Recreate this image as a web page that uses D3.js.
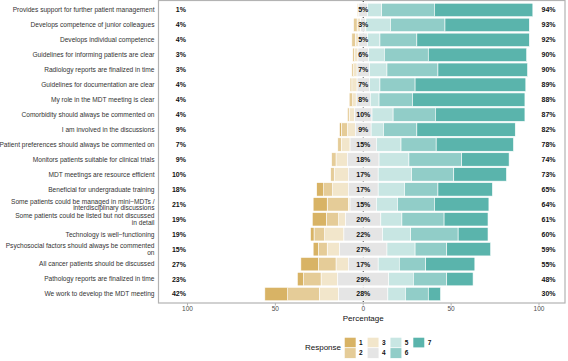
<!DOCTYPE html>
<html>
<head>
<meta charset="utf-8">
<script src="https://cdn.jsdelivr.net/npm/d3@7"></script>
<style>
  html, body { margin: 0; padding: 0; background: #fff; }
  svg { display: block; font-family: "Liberation Sans", Arial, Helvetica, sans-serif; }
</style>
</head>
<body>
<svg id="chart" width="568" height="361"></svg>
<script>
// ---- DATA ----
const items = [
  "Provides support for further patient management",
  "Develops competence of junior colleagues",
  "Develops individual competence",
  "Guidelines for informing patients are clear",
  "Radiology reports are finalized in time",
  "Guidelines for documentation are clear",
  "My role in the MDT meeting is clear",
  "Comorbidity should always be commented on",
  "I am involved in the discussions",
  "Patient preferences should always be commented on",
  "Monitors patients suitable for clinical trials",
  "MDT meetings are resource efficient",
  "Beneficial for undergraduate training",
  "Some patients could be managed in mini\u2212MDTs /\ninterdisciplinary discussions",
  "Some patients could be listed but not discussed\nin detail",
  "Technology is well\u2212functioning",
  "Psychosocial factors should always be commented\non",
  "All cancer patients should be discussed",
  "Pathology reports are finalized in time",
  "We work to develop the MDT meeting"
];
const levels = ["1", "2", "3", "4", "5", "6", "7"];
const resp1 = [0, 0, 0, 0, 0, 0, 0, 0, 1, 0, 0, 0, 4, 8, 8, 2, 3, 10, 3.5, 13];
const resp2 = [0, 2, 2, 1, 1, 1, 2, 1, 3.5, 2, 2.5, 2, 5, 12, 7, 6, 5, 10, 10, 18];
const resp3 = [1, 2, 2, 2, 2, 3, 2, 3, 4.5, 5, 6.5, 8, 9, 1, 4, 11, 7, 7, 9.5, 11];
const resp4 = [5, 3, 5, 6, 7, 7, 8, 10, 9, 15, 18, 17, 17, 15, 20, 22, 27, 17, 29, 28];
const resp5 = [8, 14, 7, 9, 10, 6, 5, 12, 7, 14, 17, 19, 15, 12, 12, 16, 16, 12, 14, 10];
const resp6 = [30, 31, 21, 25, 29, 20, 19, 24, 19, 20, 30, 24, 19, 21, 24, 27, 18, 15, 19, 13];
const resp7 = [56, 48, 64, 56, 51, 63, 64, 51, 56, 44, 27, 30, 31, 31, 25, 17, 25, 28, 15, 7];
const xTicks = [-100, -50, 0, 50, 100];
const colors = ["#D8B365", "#E5CC98", "#F2E6CB", "#E5E5E5", "#C8E6E3", "#91CDC8", "#5AB4AC"];

// ---- LAYOUT ----
const svg = d3.select("#chart");
const panel = { left: 158.5, right: 565, top: 1, bottom: 303 };

const x = d3.scaleLinear().domain([-116.5, 114.8]).range([panel.left, panel.right]);
const y = d3.scalePoint().domain(d3.range(items.length)).range([panel.top, panel.bottom]).padding(0.6);
const barH = y.step() * 0.9;
const color = d3.scaleOrdinal().domain(levels).range(colors);

const series = [resp1, resp2, resp3, resp4, resp5, resp6, resp7];

// segments
const segs = [];
items.forEach((it, i) => {
  const v = series.map(s => s[i]);
  const n = v[3];
  let pos = -n / 2;
  for (let k = 2; k >= 0; k--) {
    segs.push({ row: i, lev: levels[k], x0: pos - v[k], x1: pos });
    pos -= v[k];
  }
  segs.push({ row: i, lev: levels[3], x0: -n / 2, x1: n / 2 });
  pos = n / 2;
  for (let k = 4; k < 7; k++) {
    segs.push({ row: i, lev: levels[k], x0: pos, x1: pos + v[k] });
    pos += v[k];
  }
});

// panel border
svg.append("rect")
  .attr("x", panel.left).attr("y", panel.top - 0.5)
  .attr("width", panel.right - panel.left).attr("height", panel.bottom - panel.top + 0.5)
  .attr("fill", "#fff").attr("stroke", "#b3b3b3").attr("stroke-width", 1.2);

// zero line (behind bars)
svg.append("line")
  .attr("x1", x(0)).attr("x2", x(0))
  .attr("y1", panel.top).attr("y2", panel.bottom)
  .attr("stroke", "#222").attr("stroke-width", 1)
  .attr("stroke-dasharray", "1,1");

// bars
svg.append("g").selectAll("rect").data(segs.filter(d => d.x1 > d.x0)).join("rect")
  .attr("x", d => x(d.x0))
  .attr("width", d => x(d.x1) - x(d.x0))
  .attr("y", d => y(d.row) - barH / 2)
  .attr("height", barH)
  .attr("fill", d => color(d.lev))
  .attr("stroke", "#fff").attr("stroke-width", 0.6);

// percentage labels
const pctG = svg.append("g").attr("font-size", 7).attr("font-weight", "bold").attr("fill", "#111");
items.forEach((it, i) => {
  const low = Math.round(resp1[i] + resp2[i] + resp3[i]);
  const neu = Math.round(resp4[i]);
  const high = Math.round(resp5[i] + resp6[i] + resp7[i]);
  pctG.append("text").attr("x", x(-100) - 1.5).attr("y", y(i)).attr("dy", "0.35em")
    .attr("text-anchor", "end").text(low + "%");
  pctG.append("text").attr("x", x(0)).attr("y", y(i)).attr("dy", "0.35em")
    .attr("text-anchor", "middle").text(neu + "%");
  pctG.append("text").attr("x", x(100) + 2.5).attr("y", y(i)).attr("dy", "0.35em")
    .attr("text-anchor", "start").text(high + "%");
});

// y-axis labels
const yl = svg.append("g").attr("font-size", 6.6).attr("fill", "#333").attr("text-anchor", "end");
items.forEach((it, i) => {
  const lines = it.split("\n");
  const lh = 6.2;
  const t = yl.append("text").attr("x", panel.left - 4).attr("y", y(i) - (lines.length - 1) * lh / 2);
  lines.forEach((ln, j) => {
    t.append("tspan").attr("x", panel.left - 4).attr("dy", j === 0 ? "0.35em" : lh).text(ln);
  });
});

// x axis
const xa = svg.append("g");
xa.selectAll("line.tick").data(xTicks).join("line")
  .attr("x1", d => x(d)).attr("x2", d => x(d))
  .attr("y1", panel.bottom).attr("y2", panel.bottom + 2.5)
  .attr("stroke", "#b3b3b3").attr("stroke-width", 1);
xa.selectAll("text").data(xTicks).join("text")
  .attr("x", d => x(d)).attr("y", panel.bottom + 8)
  .attr("text-anchor", "middle").attr("font-size", 6.5).attr("fill", "#4d4d4d")
  .text(d => Math.abs(d));
svg.append("text").attr("x", x(0)).attr("y", panel.bottom + 18)
  .attr("text-anchor", "middle").attr("font-size", 8).attr("fill", "#111")
  .text("Percentage");

// legend
const lg = svg.append("g");
lg.append("text").attr("x", 341).attr("y", 350).attr("text-anchor", "end")
  .attr("font-size", 8).attr("fill", "#111").text("Response");
const kw = 11.7, kh = 10.5, colStep = 22.9;
levels.forEach((lv, k) => {
  const c = Math.floor(k / 2), r = k % 2;
  const kx = 344.3 + c * colStep, ky = 337.3 + r * kh;
  lg.append("rect").attr("x", kx).attr("y", ky).attr("width", kw).attr("height", kh)
    .attr("fill", color(lv)).attr("stroke", "#fff").attr("stroke-width", 0.6);
  lg.append("text").attr("x", kx + kw + 3).attr("y", ky + kh / 2).attr("dy", "0.35em")
    .attr("font-size", 6.5).attr("font-weight", "bold").attr("fill", "#111").text(lv);
});
</script>
</body>
</html>
